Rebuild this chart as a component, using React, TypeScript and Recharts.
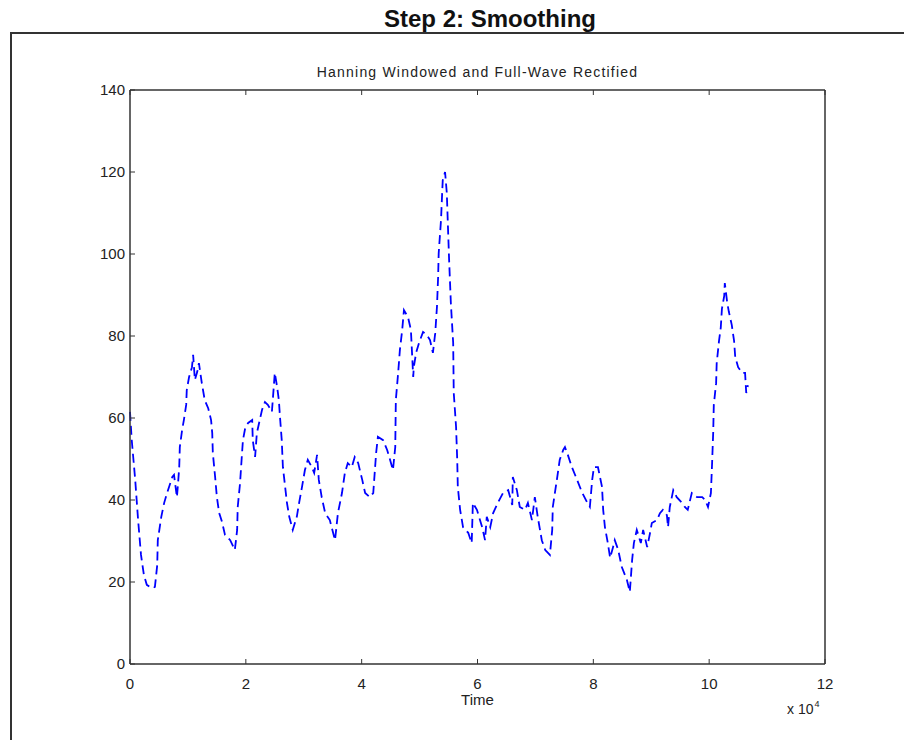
import React from 'react';
import { LineChart, Line, XAxis, YAxis } from 'recharts';

// time in units of 10^4 samples
const time = [
  0.0, 0.03, 0.09, 0.14, 0.19, 0.24, 0.29, 0.38, 0.43, 0.47, 0.48, 0.54, 0.59, 0.64, 0.73, 0.76,
  0.81, 0.83, 0.85, 0.86, 0.9, 0.93, 0.97, 0.98, 1.02, 1.07, 1.09, 1.12, 1.16, 1.19, 1.24, 1.29,
  1.35, 1.4, 1.42, 1.43, 1.47, 1.5, 1.54, 1.59, 1.64, 1.73, 1.81, 1.85, 1.86, 1.9, 1.93, 1.95,
  1.99, 2.04, 2.11, 2.12, 2.16, 2.19, 2.24, 2.28, 2.33, 2.38, 2.45, 2.5, 2.54, 2.57, 2.59, 2.62,
  2.64, 2.71, 2.75, 2.81, 2.88, 2.92, 2.97, 3.02, 3.07, 3.14, 3.18, 3.23, 3.26, 3.31, 3.37, 3.45,
  3.54, 3.59, 3.66, 3.71, 3.76, 3.83, 3.88, 3.94, 4.01, 4.06, 4.14, 4.2, 4.25, 4.28, 4.37, 4.44,
  4.49, 4.54, 4.58, 4.59, 4.63, 4.66, 4.7, 4.73, 4.8, 4.85, 4.89, 4.9, 4.94, 4.99, 5.06, 5.13,
  5.18, 5.23, 5.27, 5.3, 5.32, 5.33, 5.37, 5.39, 5.4, 5.44, 5.47, 5.49, 5.51, 5.54, 5.58, 5.59,
  5.63, 5.65, 5.66, 5.7, 5.75, 5.84, 5.9, 5.92, 5.99, 6.08, 6.13, 6.16, 6.22, 6.27, 6.35, 6.44,
  6.53, 6.6, 6.61, 6.68, 6.73, 6.82, 6.87, 6.94, 6.99, 7.04, 7.11, 7.17, 7.25, 7.29, 7.3, 7.37,
  7.42, 7.48, 7.51, 7.56, 7.63, 7.72, 7.8, 7.89, 7.94, 7.98, 8.01, 8.08, 8.15, 8.17, 8.2, 8.25,
  8.29, 8.34, 8.37, 8.43, 8.49, 8.58, 8.63, 8.67, 8.7, 8.75, 8.82, 8.86, 8.93, 8.98, 9.01, 9.1,
  9.15, 9.2, 9.27, 9.29, 9.32, 9.38, 9.44, 9.53, 9.58, 9.63, 9.7, 9.79, 9.88, 9.93, 9.98, 10.03,
  10.05, 10.07, 10.08, 10.12, 10.13, 10.17, 10.2, 10.22, 10.26, 10.27, 10.31, 10.34, 10.39, 10.43, 10.45, 10.5,
  10.57, 10.62, 10.64, 10.67,
];

const amplitude = [
  61.5, 54.6, 44.9, 35.1, 26.6, 21.7, 19.3, 18.5, 18.8, 24.1, 30.2, 35.9, 39.3, 41.7, 45.6, 46.1,
  40.7, 44.1, 48.0, 52.9, 57.1, 59.5, 63.2, 66.8, 70.0, 72.4, 75.4, 69.3, 71.2, 73.4, 68.5, 64.4,
  62.4, 59.5, 56.3, 51.5, 45.6, 40.7, 36.8, 34.6, 31.5, 30.2, 27.8, 32.7, 38.3, 44.1, 50.5, 54.6,
  57.6, 58.8, 59.5, 54.6, 50.5, 56.3, 59.5, 62.0, 63.9, 63.2, 61.5, 71.0, 67.6, 64.4, 60.2, 54.6,
  48.0, 39.3, 35.9, 32.7, 35.9, 39.3, 43.2, 47.3, 49.8, 48.0, 46.6, 51.0, 44.9, 40.7, 36.8, 35.1,
  30.2, 36.8, 41.7, 46.6, 49.0, 48.0, 50.5, 49.0, 44.9, 41.7, 40.7, 41.7, 51.5, 55.4, 54.6, 52.2,
  49.8, 47.3, 52.9, 64.4, 71.0, 76.6, 81.5, 86.3, 84.6, 81.5, 70.0, 72.4, 75.9, 78.3, 81.0, 80.2,
  79.0, 75.9, 80.7, 87.1, 94.4, 100.2, 108.3, 114.9, 118.0, 120.0, 114.9, 106.6, 98.5, 88.0, 78.3, 66.1,
  57.8, 49.8, 43.2, 37.6, 33.4, 32.0, 29.5, 39.3, 37.6, 33.4, 30.2, 35.9, 33.4, 36.8, 39.3, 41.7,
  42.4, 38.8, 45.6, 42.4, 38.3, 37.6, 39.3, 35.1, 40.7, 35.9, 30.2, 27.8, 26.6, 32.7, 38.3, 44.9,
  49.8, 52.2, 52.9, 51.0, 48.0, 44.9, 42.0, 39.5, 38.3, 44.9, 48.0, 48.0, 43.2, 37.6, 33.4, 29.5,
  25.9, 28.5, 30.2, 27.8, 23.7, 20.5, 17.6, 25.4, 29.5, 32.7, 29.5, 32.7, 28.5, 32.0, 34.4, 35.1,
  36.8, 37.6, 36.3, 33.4, 38.3, 42.4, 40.7, 39.3, 38.3, 37.6, 41.7, 40.7, 40.7, 40.0, 38.3, 41.7,
  48.8, 56.6, 63.2, 68.5, 73.4, 78.8, 82.0, 86.6, 89.8, 92.9, 88.3, 85.9, 82.7, 78.8, 74.9, 72.4,
  71.0, 71.0, 66.1, 68.0,
];

const xTicks = [0, 2, 4, 6, 8, 10, 12];
const yTicks = [0, 20, 40, 60, 80, 100, 120, 140];

const data = time.map((t, i) => ({ t, v: amplitude[i] }));

const font = '"Liberation Sans", Arial, Helvetica, sans-serif';
const axisColor = '#333';
const tickLen = 5;
const xGap = 14;
const yGap = 5;

// MATLAB style: ticks point into the axes box
const BottomTick = (props: any) => {
  const { x, y, payload } = props;
  return (
    <g>
      <line x1={x} x2={x} y1={y - xGap} y2={y - xGap - tickLen} stroke={axisColor} />
      <text x={x} y={y} dy="0.71em" textAnchor="middle" fill="#222" fontSize={15} fontFamily={font}>
        {payload.value}
      </text>
    </g>
  );
};

const TopTick = (props: any) => {
  const { x, y } = props;
  return <line x1={x} x2={x} y1={y} y2={y + tickLen} stroke={axisColor} />;
};

const LeftTick = (props: any) => {
  const { x, y, payload } = props;
  return (
    <g>
      <line x1={x + yGap} x2={x + yGap + tickLen} y1={y} y2={y} stroke={axisColor} />
      <text x={x} y={y} dy="0.355em" textAnchor="end" fill="#222" fontSize={15} fontFamily={font}>
        {payload.value}
      </text>
    </g>
  );
};

const RightTick = (props: any) => {
  const { x, y } = props;
  return <line x1={x} x2={x - tickLen} y1={y} y2={y} stroke={axisColor} />;
};

export default function App() {
  return (
    <div style={{ position: 'absolute', left: 0, top: 0, width: 904, height: 740, background: '#fff', fontFamily: font }}>
      <div style={{ position: 'absolute', left: 0, top: 7, width: 980, textAlign: 'center', fontSize: 24, lineHeight: '24px', fontWeight: 'bold', color: '#111' }}>
        Step 2: Smoothing
      </div>
      <div style={{ position: 'absolute', left: 10, top: 32, width: 894, height: 2, background: '#333' }} />
      <div style={{ position: 'absolute', left: 10, top: 32, width: 2, height: 708, background: '#333' }} />

      <div style={{ position: 'absolute', left: 0, top: 65, width: 955, textAlign: 'center', fontSize: 14, lineHeight: '14px', letterSpacing: 1.2, color: '#222' }}>
        Hanning Windowed and Full-Wave Rectified
      </div>

      <div style={{ position: 'absolute', left: 0, top: 692, width: 955, textAlign: 'center', fontSize: 15, lineHeight: '15px', color: '#222' }}>
        Time
      </div>
      <div style={{ position: 'absolute', left: 787, top: 702, fontSize: 14, lineHeight: '14px', color: '#222', whiteSpace: 'nowrap' }}>
        x 10<span style={{ fontSize: 9, position: 'relative', top: -7, marginLeft: 1 }}>4</span>
      </div>

      <div style={{ position: 'absolute', left: 0, top: 0 }}>
        <LineChart
          width={904}
          height={740}
          data={data}
          margin={{ top: 89, right: 78, bottom: 75, left: 129 }}
        >
          <XAxis
            xAxisId="bottom"
            dataKey="t"
            type="number"
            domain={[0, 12]}
            ticks={xTicks}
            height={1}
            tickSize={0}
            tickMargin={xGap}
            axisLine={{ stroke: axisColor, strokeWidth: 1.5 }}
            tickLine={false}
            tick={<BottomTick />}
            interval={0}
          />
          <XAxis
            xAxisId="top"
            orientation="top"
            dataKey="t"
            type="number"
            domain={[0, 12]}
            ticks={xTicks}
            height={1}
            tickSize={0}
            tickMargin={0}
            axisLine={{ stroke: axisColor, strokeWidth: 1.5 }}
            tickLine={false}
            tick={<TopTick />}
            interval={0}
          />
          <YAxis
            yAxisId="left"
            type="number"
            domain={[0, 140]}
            ticks={yTicks}
            width={1}
            tickSize={0}
            tickMargin={yGap}
            axisLine={{ stroke: axisColor, strokeWidth: 1.5 }}
            tickLine={false}
            tick={<LeftTick />}
            interval={0}
          />
          <YAxis
            yAxisId="right"
            orientation="right"
            type="number"
            domain={[0, 140]}
            ticks={yTicks}
            width={1}
            tickSize={0}
            tickMargin={0}
            axisLine={{ stroke: axisColor, strokeWidth: 1.5 }}
            tickLine={false}
            tick={<RightTick />}
            interval={0}
          />
          <Line
            xAxisId="bottom"
            yAxisId="left"
            type="linear"
            dataKey="v"
            stroke="#0000ff"
            strokeWidth={1.8}
            strokeDasharray="9 5"
            dot={false}
            activeDot={false}
            isAnimationActive={false}
          />
        </LineChart>
      </div>
    </div>
  );
}
